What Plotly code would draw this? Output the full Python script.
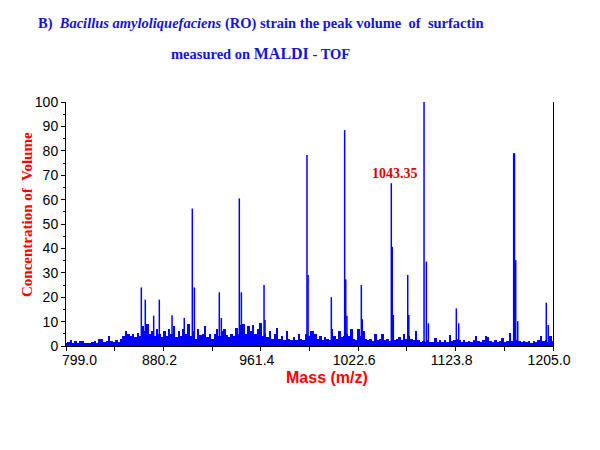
"""MALDI-TOF spectrum of surfactin from Bacillus amyloliquefaciens (RO)."""

import plotly.graph_objects as go

# Background spectrum, one reading every 2 m/z starting at 799
NOISE_START = 799.0
NOISE_STEP = 2.0
noise_height = [
    1.2, 1.5, 2.3, 1.2, 2.2, 1.4, 2.0, 2.0, 1.3, 1.2,
    1.3, 1.6, 2.0, 1.3, 3.0, 3.0, 1.5, 2.0, 4.2, 2.0,
    1.5, 2.3, 1.6, 3.0, 4.2, 6.0, 5.0, 4.0, 5.0, 3.5,
    5.5, 4.0, 8.0, 6.0, 9.0, 5.0, 6.0, 4.0, 7.0, 5.0,
    3.5, 6.0, 4.0, 7.0, 5.0, 8.0, 3.5, 6.0, 4.0, 7.0,
    5.0, 9.0, 4.0, 6.0, 3.0, 7.0, 4.5, 5.0, 8.0, 3.5,
    4.8, 3.0, 5.0, 7.0, 4.0, 6.0, 7.0, 4.5, 3.5, 5.0,
    4.0, 7.3, 5.0, 8.6, 9.0, 5.0, 8.0, 6.0, 8.6, 5.0,
    7.0, 9.5, 4.0, 5.0, 3.5, 6.3, 3.0, 5.0, 7.3, 3.0,
    4.0, 2.5, 6.0, 3.0, 2.5, 3.5, 2.5, 5.0, 3.0, 2.5,
    5.0, 4.0, 6.0, 6.3, 5.0, 3.0, 4.0, 2.5, 3.5, 3.0,
    2.5, 7.0, 4.0, 3.0, 6.0, 3.5, 4.0, 5.0, 4.0, 7.0,
    3.0, 2.5, 7.0, 4.0, 6.0, 3.0, 2.5, 3.0, 2.0, 5.0,
    2.5, 3.0, 5.0, 2.5, 3.0, 2.0, 4.0, 2.5, 3.0, 3.5,
    2.5, 5.0, 3.0, 4.0, 3.0, 2.5, 6.3, 2.5, 1.5, 2.0,
    1.5, 2.5, 1.5, 1.8, 3.4, 1.5, 2.5, 1.8, 2.5, 1.5,
    4.5, 2.0, 2.5, 3.0, 2.5, 1.8, 2.5, 1.5, 2.0, 1.5,
    2.5, 4.1, 2.0, 1.5, 2.5, 4.1, 3.5, 2.0, 1.5, 2.5,
    1.5, 2.0, 3.4, 1.5, 2.0, 5.2, 2.0, 3.0, 2.5, 2.0,
    1.5, 2.0, 1.5, 2.0, 1.2, 2.0, 1.5, 2.5, 4.1, 2.0,
    2.5, 1.5, 4.0, 2.0,
]

# Distinct peaks
peak_mass = [
    861.8, 865.1, 872.1, 876.8, 887.4, 897.6, 904.3, 906.0, 926.8, 928.5,
    943.5, 945.2, 964.1, 964.9, 999.9, 1000.8, 1020.2, 1031.3, 1032.2, 1033.2,
    1045.2, 1046.0, 1070.2, 1071.0, 1071.9, 1083.9, 1084.8, 1097.5, 1099.4, 1101.1,
    1124.4, 1126.4, 1172.2, 1172.9, 1173.9, 1175.6, 1199.4, 1201.0,
]
peak_height = [
    24.0, 19.0, 12.4, 19.0, 12.6, 11.5, 56.3, 24.0, 22.0, 11.5,
    60.5, 22.0, 25.0, 10.7, 78.3, 29.1, 20.0, 88.5, 27.3, 12.4,
    25.0, 11.0, 66.7, 40.6, 12.7, 29.1, 12.7, 100.0, 34.6, 9.3,
    15.4, 9.3, 79.0, 79.0, 35.2, 10.2, 17.7, 8.6,
]

labelled_peak = 1070.2
labelled_text = "1043.35"

x_tick_vals = [799.0, 839.6, 880.2, 920.8, 961.4, 1002.0, 1042.6, 1083.2, 1123.8, 1164.4, 1205.0]
x_tick_text = ["799.0", "", "880.2", "", "961.4", "", "1022.6", "", "1123.8", "", "1205.0"]

BLUE = "#0000ff"
RED = "#ff0000"
TITLE_BLUE = "#1414d8"
SERIF = "Liberation Serif, Times New Roman, serif"
SANS = "Liberation Sans, Arial, sans-serif"

noise_mass = [NOISE_START + NOISE_STEP * i for i in range(len(noise_height))]

# first label is left-aligned at its tick (clear of the y-axis "0"),
# so it goes in as an annotation instead of an axis label
first_tick_label = x_tick_text[0]
axis_tick_text = [""] + x_tick_text[1:]

# sticks: 0 -> height, separated by gaps
stick_x, stick_y = [], []
for m, h in zip(peak_mass, peak_height):
    stick_x += [m, m, None]
    stick_y += [0, h, None]

fig = go.Figure()
fig.add_trace(go.Bar(
    x=noise_mass, y=noise_height, width=NOISE_STEP,
    marker=dict(color=BLUE, line=dict(width=0)),
    hoverinfo="skip", showlegend=False,
))
fig.add_trace(go.Scatter(
    x=stick_x, y=stick_y, mode="lines",
    line=dict(color=BLUE, width=1.5),
    showlegend=False,
))

# right-hand frame line
fig.add_trace(go.Scatter(x=[None], y=[None], yaxis="y2", showlegend=False))

# the page body adds an 8px offset, so margins are trimmed on the top/left
fig.update_layout(
    width=600, height=450,
    margin=dict(l=58, r=55, t=94, b=112),
    paper_bgcolor="white", plot_bgcolor="white",
    bargap=0,
    xaxis=dict(
        range=[799, 1205], tickmode="array",
        tickvals=x_tick_vals, ticktext=axis_tick_text,
        showline=True, linecolor="black", linewidth=1,
        ticks="outside", ticklen=4, tickcolor="black",
        ticklabelshift=-4, ticklabelstandoff=-3,
        showgrid=False, zeroline=False,
        tickfont=dict(family=SANS, size=14, color="black"),
    ),
    yaxis=dict(
        range=[0, 100], dtick=10,
        showline=True, linecolor="black", linewidth=1,
        ticks="outside", ticklen=4, tickcolor="black",
        minor=dict(dtick=5, ticks="outside", ticklen=2, tickcolor="black"),
        showgrid=False, zeroline=False,
        tickfont=dict(family=SANS, size=14, color="black"),
    ),
    yaxis2=dict(
        range=[0, 100], overlaying="y", side="right",
        showline=True, linecolor="black", linewidth=1,
        showticklabels=False, ticks="", showgrid=False, zeroline=False,
    ),
    annotations=[
        dict(
            text="<b>B)  <i>Bacillus amyloliquefaciens</i> (RO) strain the peak volume  of  surfactin</b>",
            xref="paper", yref="paper", x=0.4, y=1.32,
            xanchor="center", yanchor="middle",
            showarrow=False, font=dict(family=SERIF, size=14.5, color=TITLE_BLUE),
        ),
        dict(
            text="<b>measured on <span style='font-size:16px'>MALDI</span> - TOF</b>",
            xref="paper", yref="paper", x=0.4, y=1.197,
            xanchor="center", yanchor="middle",
            showarrow=False, font=dict(family=SERIF, size=14.5, color=TITLE_BLUE),
        ),
        dict(
            text="<b>Concentration of  Volume</b>",
            xref="paper", yref="paper", x=-0.08, y=0.537, textangle=-90,
            xanchor="center", yanchor="middle",
            showarrow=False, font=dict(family=SERIF, size=15, color=RED),
        ),
        dict(
            text="<b>Mass (m/z)</b>",
            xref="paper", yref="paper", x=0.535, y=-0.13,
            xanchor="center", yanchor="middle",
            showarrow=False, font=dict(family=SANS, size=16, color=RED),
        ),
        dict(
            text=first_tick_label,
            x=x_tick_vals[0], xref="x", y=0, yref="paper",
            xanchor="left", yanchor="top", xshift=-6, yshift=-4,
            showarrow=False, font=dict(family=SANS, size=14, color="black"),
        ),
        dict(
            text="<b>" + labelled_text + "</b>",
            x=labelled_peak, y=67, xref="x", yref="y",
            xanchor="center", yanchor="bottom", xshift=4,
            showarrow=False, font=dict(family=SERIF, size=14, color="#e00000"),
        ),
    ],
)

fig.write_html("out.html")
